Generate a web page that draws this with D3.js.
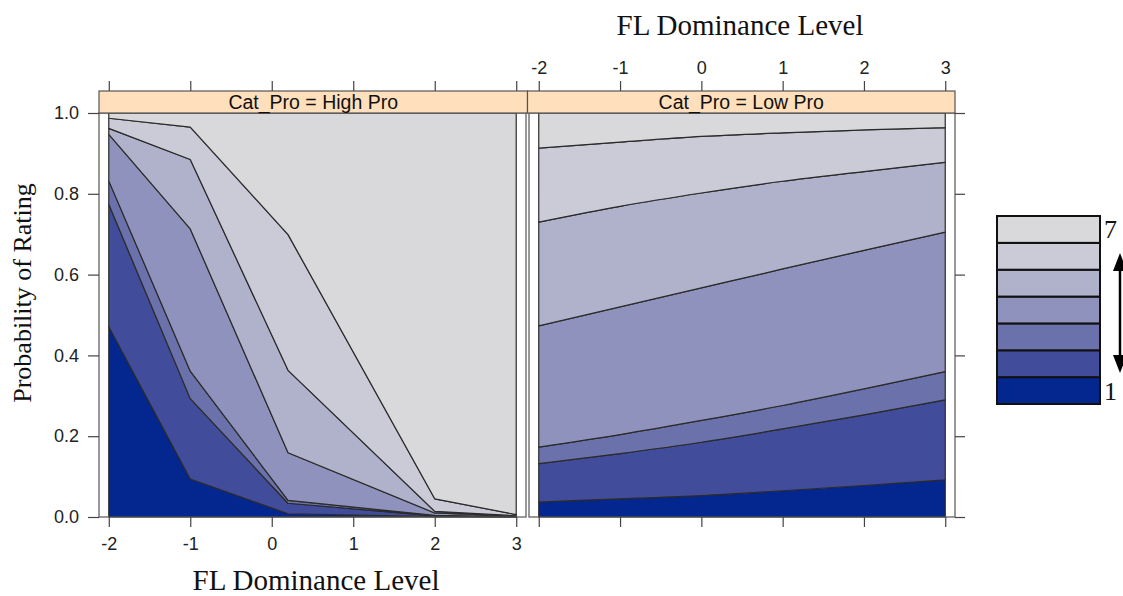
<!DOCTYPE html>
<html>
<head>
<meta charset="utf-8">
<script src="https://cdn.jsdelivr.net/npm/d3@7"></script>
<style>
  html, body { margin: 0; padding: 0; background: #fff; }
  svg { display: block; }
</style>
</head>
<body>
<svg id="chart" width="1123" height="596"></svg>
<script>
// ---------------- DATA ----------------
const levels = [1, 2, 3, 4, 5, 6, 7];
const levelColors = ["#03278F", "#414C9B", "#6B72AB", "#8F92BD", "#B0B2CB", "#CACBD7", "#D9D9DB"];
const xTicks = [-2, -1, 0, 1, 2, 3];
const yTicks = [0, 0.2, 0.4, 0.6, 0.8, 1.0];
const panelNames = ["Cat_Pro = High Pro", "Cat_Pro = Low Pro"];

// High Pro panel: cumulative probability boundaries (rating <= k)
const highProX = [-2, -1, 0.2, 2, 3];
const highProCum1 = [0.471, 0.094, 0.008, 0.001, 0.000];
const highProCum2 = [0.774, 0.293, 0.034, 0.003, 0.000];
const highProCum3 = [0.832, 0.361, 0.041, 0.004, 0.001];
const highProCum4 = [0.947, 0.713, 0.159, 0.010, 0.002];
const highProCum5 = [0.962, 0.885, 0.363, 0.014, 0.003];
const highProCum6 = [0.987, 0.965, 0.699, 0.045, 0.006];

// Low Pro panel: cumulative probability boundaries (rating <= k)
const lowProX = [-2, -1, 0, 1, 2, 3];
const lowProCum1 = [0.037, 0.045, 0.053, 0.065, 0.078, 0.092];
const lowProCum2 = [0.132, 0.157, 0.185, 0.218, 0.253, 0.290];
const lowProCum3 = [0.173, 0.204, 0.239, 0.276, 0.317, 0.360];
const lowProCum4 = [0.473, 0.520, 0.567, 0.614, 0.660, 0.705];
const lowProCum5 = [0.730, 0.769, 0.802, 0.831, 0.855, 0.878];
const lowProCum6 = [0.913, 0.928, 0.942, 0.951, 0.958, 0.964];

// ---------------- LAYOUT ----------------
const svg = d3.select("#chart");
const serif = "'Liberation Serif', 'Times New Roman', serif";
const sans = "'Liberation Sans', Arial, sans-serif";
const frameColor = "#555";
const lineColor = "#2b2b2b";

const yTop = 113, yBottom = 517, stripTop = 91;
const y = d3.scaleLinear().domain([0, 1]).range([yBottom, yTop]);
const xDomain = [-2.12, 3.12];
const panels = [
  { name: panelNames[0], x: d3.scaleLinear().domain(xDomain).range([99, 526]),
    xs: highProX, cum: [highProCum1, highProCum2, highProCum3, highProCum4, highProCum5, highProCum6],
    curve: d3.curveLinear },
  { name: panelNames[1], x: d3.scaleLinear().domain(xDomain).range([529, 955]),
    xs: lowProX, cum: [lowProCum1, lowProCum2, lowProCum3, lowProCum4, lowProCum5, lowProCum6],
    curve: d3.curveMonotoneX }
];
const plainFmt = d => String(d);

panels.forEach((p, pi) => {
  const [x0, x1] = p.x.range();
  const g = svg.append("g");

  // stacked level regions
  levels.forEach((lv, li) => {
    const lower = li === 0 ? p.xs.map(() => 0) : p.cum[li - 1];
    const upper = li === levels.length - 1 ? p.xs.map(() => 1) : p.cum[li];
    const pts = p.xs.map((xv, i) => ({ x: xv, lo: lower[i], hi: upper[i] }));
    const area = d3.area()
      .x(d => p.x(d.x))
      .y0(d => y(d.lo))
      .y1(d => y(d.hi))
      .curve(p.curve);
    g.append("path")
      .attr("d", area(pts))
      .attr("fill", levelColors[li])
      .attr("stroke", lineColor)
      .attr("stroke-width", 1.2)
      .attr("stroke-linejoin", "round");
  });

  // panel frame
  g.append("rect")
    .attr("x", x0).attr("y", yTop)
    .attr("width", x1 - x0).attr("height", yBottom - yTop)
    .attr("fill", "none").attr("stroke", frameColor).attr("stroke-width", 1.2);

  // strip
  const sx0 = pi === 0 ? x0 : 527.5;
  const sx1 = pi === 0 ? 527.5 : x1;
  g.append("rect")
    .attr("x", sx0).attr("y", stripTop)
    .attr("width", sx1 - sx0).attr("height", yTop - stripTop)
    .attr("fill", "#FFDFBC").attr("stroke", frameColor).attr("stroke-width", 1.2);
  g.append("text")
    .attr("x", (sx0 + sx1) / 2).attr("y", (stripTop + yTop) / 2 + 7)
    .attr("text-anchor", "middle")
    .attr("font-family", sans).attr("font-size", 19.5)
    .attr("fill", "#111")
    .text(p.name);

  // axes
  const styleAxis = sel => {
    sel.select(".domain").remove();
    sel.selectAll(".tick line").attr("stroke", "#444").attr("stroke-width", 1.2);
    sel.selectAll(".tick text").attr("font-family", sans).attr("font-size", 18).attr("fill", "#222");
  };
  const bottom = d3.axisBottom(p.x).tickValues(xTicks).tickSize(10).tickPadding(10);
  const top = d3.axisTop(p.x).tickValues(xTicks).tickSize(10).tickPadding(7);
  if (pi === 0) {
    bottom.tickFormat(plainFmt);
    top.tickFormat("");
  } else {
    bottom.tickFormat("");
    top.tickFormat(plainFmt);
  }
  svg.append("g").attr("transform", `translate(0,${yBottom})`).call(bottom).call(styleAxis);
  svg.append("g").attr("transform", `translate(0,${stripTop})`).call(top).call(styleAxis);

  if (pi === 0) {
    svg.append("g").attr("transform", `translate(${x0},0)`)
      .call(d3.axisLeft(y).tickValues(yTicks).tickFormat(d3.format(".1f")).tickSize(11).tickPadding(9))
      .call(styleAxis);
  } else {
    svg.append("g").attr("transform", `translate(${x1},0)`)
      .call(d3.axisRight(y).tickValues(yTicks).tickFormat("").tickSize(10))
      .call(styleAxis);
  }
});

// axis titles
svg.append("text")
  .attr("x", 740).attr("y", 35)
  .attr("text-anchor", "middle")
  .attr("font-family", serif).attr("font-size", 29).attr("fill", "#111")
  .text("FL Dominance Level");
svg.append("text")
  .attr("x", 316).attr("y", 590)
  .attr("text-anchor", "middle")
  .attr("font-family", serif).attr("font-size", 29).attr("fill", "#111")
  .text("FL Dominance Level");
svg.append("text")
  .attr("transform", "translate(31,293) rotate(-90)")
  .attr("text-anchor", "middle")
  .attr("font-family", serif).attr("font-size", 26).attr("fill", "#111")
  .text("Probability of Rating");

// ---------------- LEGEND ----------------
const legY = d3.scaleBand().domain(levels.slice().reverse()).range([216, 404]).padding(0);
const legX0 = 997, legX1 = 1100;
const leg = svg.append("g");
levels.forEach((lv, li) => {
  leg.append("rect")
    .attr("x", legX0).attr("y", legY(lv))
    .attr("width", legX1 - legX0).attr("height", legY.bandwidth())
    .attr("fill", levelColors[li])
    .attr("stroke", "#111").attr("stroke-width", 2);
});
leg.append("text")
  .attr("x", 1104).attr("y", legY(7) + legY.bandwidth() / 2 + 9)
  .attr("font-family", serif).attr("font-size", 26).attr("fill", "#111")
  .text(levels[levels.length - 1]);
leg.append("text")
  .attr("x", 1104).attr("y", legY(1) + legY.bandwidth() / 2 + 9)
  .attr("font-family", serif).attr("font-size", 26).attr("fill", "#111")
  .text(levels[0]);

// double-headed arrow
const ax = 1120, ayTop = 253, ayBot = 373;
leg.append("line")
  .attr("x1", ax).attr("x2", ax).attr("y1", ayTop + 12).attr("y2", ayBot - 12)
  .attr("stroke", "#000").attr("stroke-width", 2.5);
leg.append("path")
  .attr("d", `M${ax},${ayTop} L${ax - 7},${ayTop + 18} L${ax + 7},${ayTop + 18} Z`)
  .attr("fill", "#000");
leg.append("path")
  .attr("d", `M${ax},${ayBot} L${ax - 7},${ayBot - 18} L${ax + 7},${ayBot - 18} Z`)
  .attr("fill", "#000");
</script>
</body>
</html>
